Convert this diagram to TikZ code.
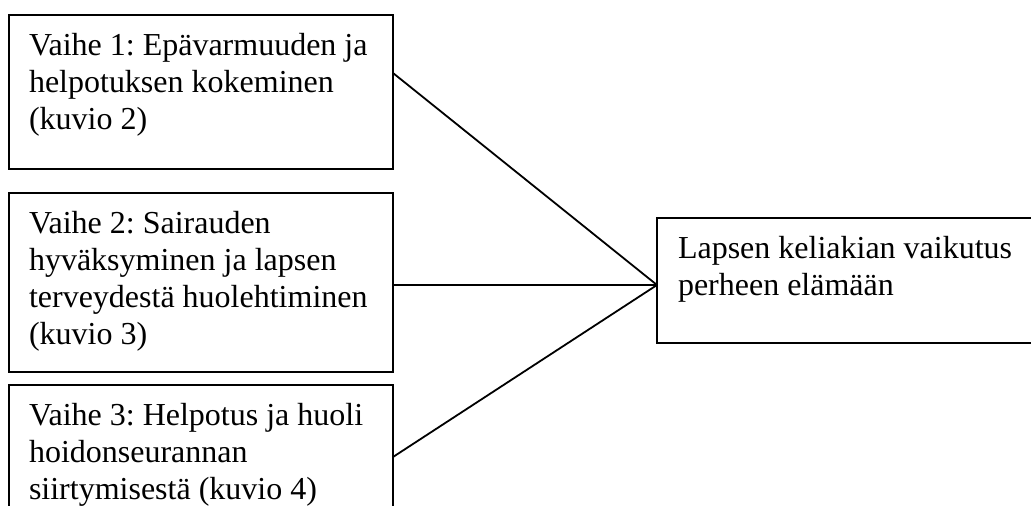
\documentclass[tikz,border=0pt]{standalone}
\usepackage{fontspec}
\setmainfont{Liberation Serif}
\usetikzlibrary{calc}
\frenchspacing

% fixed-height text block: first baseline 40pt below the top edge
\newcommand\stagetext[3]{\parbox[t][#1][t]{#2}{\fontsize{32}{37}\selectfont\rule{0pt}{40pt}\ignorespaces#3}}

\tikzset{
  stagebox/.style={draw, line width=1.9pt, anchor=north west,
                   inner xsep=20pt, inner ysep=0pt, outer sep=0pt},
  link/.style={line width=1.8pt},
}

\begin{document}
\begin{tikzpicture}[x=1pt, y=-1pt]
  \useasboundingbox (0,0) rectangle (1031,506);

  \node[stagebox] (s1) at (9,15)
    {\stagetext{154pt}{344pt}{Vaihe 1: Epävarmuuden ja\\helpotuksen kokeminen\\(kuvio 2)}};
  \node[stagebox] (s2) at (9,193)
    {\stagetext{179pt}{344pt}{Vaihe 2: Sairauden\\hyväksyminen ja lapsen\\terveydestä huolehtiminen\\(kuvio 3)}};
  \node[stagebox] (s3) at (9,385)
    {\stagetext{150pt}{344pt}{Vaihe 3: Helpotus ja huoli\\hoidonseurannan\\siirtymisestä (kuvio 4)}};

  \node[stagebox, inner xsep=21pt] (r) at (657,218)
    {\stagetext{125pt}{380pt}{Lapsen keliakian vaikutus\\perheen elämään}};

  \draw[link] ($(s1.north east)+(0,58)$) -- ($(r.north west)+(0,67)$);
  \draw[link] ($(s2.north east)+(0,92)$) -- ($(r.north west)+(0,67)$);
  \draw[link] ($(s3.north east)+(0,72)$) -- ($(r.north west)+(0,67)$);
\end{tikzpicture}
\end{document}
